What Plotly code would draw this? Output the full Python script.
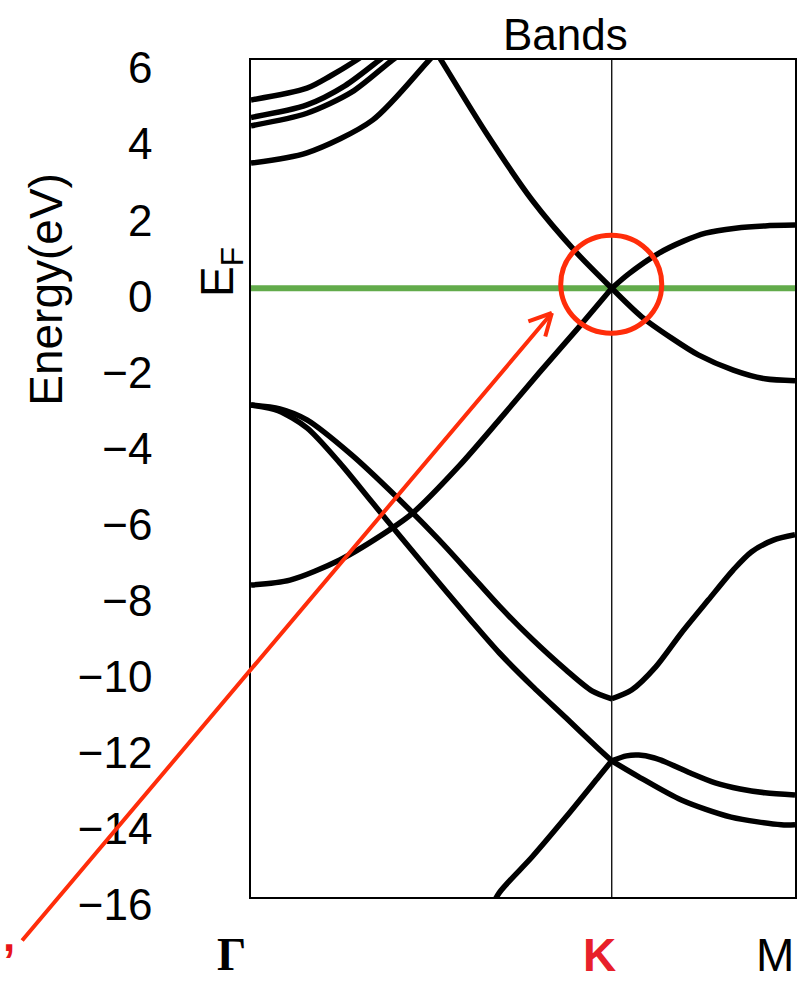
import plotly.graph_objects as go

# ---------------- data ----------------
# k-path positions: Gamma, K, M
k_ticks = [0.0, 1.0, 1.508]
k_labels = ["Γ", "K", "M"]
e_fermi = 0.0

y_ticks = [6, 4, 2, 0, -2, -4, -6, -8, -10, -12, -14, -16]

# pi valence band
pi_v_k = [0.0, 0.108, 0.246, 0.384, 0.448, 0.577, 0.688, 0.798, 0.909, 1.0,
          1.083, 1.166, 1.240, 1.337, 1.425, 1.508]
pi_v_e = [-7.80, -7.67, -7.14, -6.35, -5.91, -4.67, -3.46, -2.23, -1.02, 0.0,
          -0.75, -1.31, -1.75, -2.15, -2.38, -2.43]

# pi* conduction band
pi_c_k = [0.497, 0.530, 0.652, 0.779, 0.901, 1.0,
          1.047, 1.130, 1.199, 1.260, 1.343, 1.425, 1.508]
pi_c_e = [6.47, 5.95, 4.08, 2.32, 0.95, 0.0,
          0.38, 0.92, 1.24, 1.45, 1.58, 1.64, 1.66]

# sigma band 1 (upper)
s1_k = [0.0, 0.08, 0.155, 0.279, 0.403, 0.522, 0.605, 0.688, 0.779, 0.873, 0.945, 1.0,
        1.055, 1.122, 1.193, 1.268, 1.337, 1.387, 1.448, 1.508]
s1_e = [-3.07, -3.17, -3.46, -4.38, -5.48, -6.62, -7.48, -8.35, -9.22, -10.03, -10.58, -10.79,
        -10.56, -9.95, -9.06, -8.19, -7.40, -6.93, -6.62, -6.48]

# sigma band 2 (lower)
s2_k = [0.0, 0.075, 0.155, 0.246, 0.337, 0.475, 0.613, 0.688, 0.779, 0.873, 0.964, 1.0,
        1.041, 1.075, 1.116, 1.149, 1.218, 1.287, 1.356, 1.425, 1.508]
s2_e = [-3.07, -3.22, -3.67, -4.59, -5.64, -7.22, -8.77, -9.58, -10.45, -11.29, -12.11, -12.42,
        -12.29, -12.27, -12.34, -12.45, -12.74, -13.00, -13.16, -13.26, -13.32]

# band rising from the bottom
s3_k = [0.66, 0.688, 0.779, 0.873, 0.964, 1.0, 1.075, 1.193, 1.331, 1.47, 1.508]
s3_e = [-16.4, -15.89, -14.95, -13.90, -12.84, -12.42, -12.84, -13.45, -13.90, -14.10, -14.10]

# upper bands near Gamma
ua_k = [0.0, 0.155, 0.22, 0.293, 0.33]
ua_e = [4.95, 5.26, 5.58, 6.0, 6.25]
ub_k = [0.0, 0.155, 0.26, 0.356, 0.39]
ub_e = [4.49, 4.82, 5.32, 6.0, 6.25]
uc_k = [0.0, 0.155, 0.28, 0.392, 0.43]
uc_e = [4.27, 4.60, 5.16, 6.0, 6.25]
ud_k = [0.0, 0.155, 0.337, 0.494, 0.53]
ud_e = [3.29, 3.56, 4.42, 6.0, 6.35]

bands = [(pi_v_k, pi_v_e), (pi_c_k, pi_c_e), (s1_k, s1_e), (s2_k, s2_e), (s3_k, s3_e),
         (ua_k, ua_e), (ub_k, ub_e), (uc_k, uc_e), (ud_k, ud_e)]

# ---------------- figure ----------------
W, H = 805, 983
ML, MR, MT, MB = 251, 8, 60, 86
PW, PH = W - ML - MR, H - MT - MB

def px(x):
    return (x - ML) / PW

def py(y):
    return (H - MB - y) / PH

fig = go.Figure()

# Fermi level
fig.add_trace(go.Scatter(x=[k_ticks[0], k_ticks[-1]], y=[e_fermi, e_fermi], mode="lines",
                         line=dict(color="#62ab4b", width=6), hoverinfo="skip", showlegend=False))

def segments(k, e):
    if 1.0 in k:
        i = k.index(1.0)
        segs = []
        if i > 0:
            segs.append((k[:i + 1], e[:i + 1]))
        if i < len(k) - 1:
            segs.append((k[i:], e[i:]))
        return segs
    return [(k, e)]

for k, e in bands:
    for ks, es in segments(k, e):
        fig.add_trace(go.Scatter(x=ks, y=es, mode="lines",
                                 line=dict(color="black", width=5.5, shape="spline", smoothing=0.8),
                                 hoverinfo="skip", showlegend=False))

# vertical line at K
fig.add_shape(type="line", xref="x", yref="paper", x0=k_ticks[1], x1=k_ticks[1], y0=0, y1=1,
              line=dict(color="black", width=1.3), layer="above")

red = "#ff2d0a"
# red circle around the Dirac point
fig.add_shape(type="circle", xref="x", yref="y", xsizemode="pixel", ysizemode="pixel",
              xanchor=k_ticks[1], yanchor=e_fermi, x0=-51, x1=50, y0=-45, y1=53,
              line=dict(color=red, width=5), layer="above")

tip_x, tip_y = 0.834, -0.65
fig.add_annotation(x=tip_x, y=tip_y, xref="x", yref="y", text="", showarrow=True,
                   ax=-531, ay=629, arrowhead=0, arrowwidth=4, arrowcolor=red, standoff=0)
fig.add_annotation(x=tip_x, y=tip_y, xref="x", yref="y", text="", showarrow=True,
                   ax=-25, ay=9, arrowhead=0, arrowwidth=4, arrowcolor=red, standoff=0)
fig.add_annotation(x=tip_x, y=tip_y, xref="x", yref="y", text="", showarrow=True,
                   ax=-7, ay=25, arrowhead=0, arrowwidth=4, arrowcolor=red, standoff=0)

def label(xp, yp, text, font, angle=0):
    fig.add_annotation(x=px(xp), y=py(yp), xref="paper", yref="paper", text=text,
                       xanchor="center", yanchor="middle", textangle=angle,
                       showarrow=False, font=font)

label(8, 935, "<b>,</b>", dict(family="Liberation Sans", size=44, color="#e8141a"))

# title
label(567, 35, "Bands", dict(family="Liberation Sans", size=44, color="black"))

# axis title
label(45, 289, "Energy(eV)", dict(family="Liberation Sans", size=46, color="black"), -90)

# E_F label
label(220, 272, "E<sub>F</sub>", dict(family="Liberation Sans", size=46, color="black"), -90)

# k-point labels
label_px = [231, 601, 777]
label_fonts = [dict(family="Liberation Serif", size=46, color="black"),
               dict(family="Liberation Sans", size=46, color="#e8202a"),
               dict(family="Liberation Sans", size=46, color="black")]
label_text = ["<b>" + k_labels[0] + "</b>", "<b>" + k_labels[1] + "</b>", k_labels[2]]
for xp, t, f in zip(label_px, label_text, label_fonts):
    label(xp, 955, t, f)

fig.update_layout(
    width=W, height=H,
    margin=dict(l=ML, r=MR, t=MT, b=MB),
    paper_bgcolor="white", plot_bgcolor="white",
    showlegend=False,
    xaxis=dict(range=[k_ticks[0], k_ticks[-1]], showgrid=False, zeroline=False,
               showticklabels=False, ticks="", showline=True, linecolor="black",
               linewidth=1.5, mirror=True),
    yaxis=dict(range=[-16, 6], tickvals=y_ticks,
               ticktext=[("−" + str(-v)) if v < 0 else str(v) for v in y_ticks],
               showgrid=False, zeroline=False, ticks="", showline=True,
               linecolor="black", linewidth=1.5, mirror=True,
               tickfont=dict(family="Liberation Sans", size=44, color="black"),
               ticklabelstandoff=88, ticklabelshift=8),
)

fig.write_html("out.html")
